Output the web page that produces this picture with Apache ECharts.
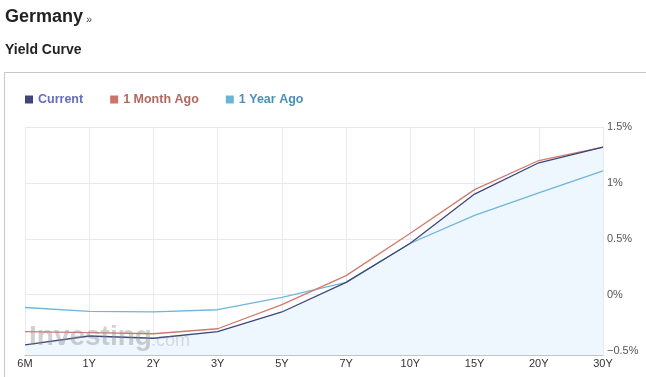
<!DOCTYPE html>
<html>
<head>
<meta charset="utf-8">
<script src="https://cdn.jsdelivr.net/npm/echarts@6/dist/echarts.min.js"></script>
<style>
  html, body { margin: 0; padding: 0; background: #fff; }
  #chart { width: 646px; height: 377px; }
</style>
</head>
<body>
<div id="chart"></div>
<script>
// maturities on the x axis
const maturities = ['6M', '1Y', '2Y', '3Y', '5Y', '7Y', '10Y', '15Y', '20Y', '30Y'];
// yields in %
const current = [-0.45, -0.37, -0.39, -0.33, -0.155, 0.11, 0.46, 0.90, 1.18, 1.32];
const monthAgo = [-0.33, -0.34, -0.35, -0.305, -0.09, 0.17, 0.55, 0.94, 1.20, 1.32];
const yearAgo = [-0.115, -0.15, -0.155, -0.135, -0.025, 0.11, 0.46, 0.71, 0.91, 1.107];
const yTicks = [-0.5, 0, 0.5, 1, 1.5];

const chart = echarts.init(document.getElementById('chart'));

chart.setOption({
  animation: false,
  textStyle: { fontFamily: 'Liberation Sans, Arial, sans-serif' },
  graphic: [
    { type: 'text', left: 5, top: 8, style: { text: 'Germany', font: 'bold 18px Liberation Sans', fill: '#222' } },
    { type: 'text', left: 86, top: 14, style: { text: '»', font: '11px Liberation Sans', fill: '#444' } },
    { type: 'text', left: 5, top: 43, style: { text: 'Yield Curve', font: 'bold 14px Liberation Sans', fill: '#222' } },
    { type: 'line', shape: { x1: 4.5, y1: 72, x2: 4.5, y2: 377 }, style: { stroke: '#c8c8c8', lineWidth: 1 } },
    { type: 'line', shape: { x1: 4, y1: 72.5, x2: 646, y2: 72.5 }, style: { stroke: '#c8c8c8', lineWidth: 1 } },
    { type: 'text', left: 29, top: 323, z: 10, style: { text: 'Investing', font: 'bold 28px Liberation Sans', fill: 'rgba(140,140,140,0.4)' } },
    { type: 'text', left: 151, top: 332, z: 10, style: { text: '.com', font: '18px Liberation Sans', fill: 'rgba(140,140,140,0.28)' } }
  ],
  legend: {
    left: 20,
    top: 88,
    itemWidth: 8,
    itemHeight: 8,
    itemGap: 27,
    icon: 'rect',
    textStyle: { fontSize: 12.5, fontWeight: 'bold' },
    data: [
      { name: 'Current', textStyle: { color: '#666cc0' } },
      { name: '1 Month Ago', textStyle: { color: '#b3685e' } },
      { name: '1 Year Ago', textStyle: { color: '#4c90b3' } }
    ]
  },
  grid: { left: 25, right: 43, top: 127, bottom: 22 },
  xAxis: {
    type: 'category',
    boundaryGap: false,
    data: maturities,
    axisLine: { onZero: false, lineStyle: { color: '#c0c4cc' } },
    axisTick: { show: false },
    axisLabel: { color: '#333', fontSize: 11, margin: 3 },
    splitLine: { show: true, lineStyle: { color: '#e6e9f5' } }
  },
  yAxis: {
    type: 'value',
    position: 'right',
    min: -0.54,
    max: 1.5,
    axisLine: { show: false },
    axisTick: { show: false, customValues: yTicks },
    axisLabel: {
      customValues: yTicks,
      color: '#555',
      fontSize: 11,
      margin: 4,
      formatter: v => (v < 0 ? '\u2212' + (-v) : v) + '%'
    },
    splitLine: { show: true, lineStyle: { color: '#e6e9f5' } }
  },
  series: [
    {
      // fill under the current curve, kept behind every line
      name: 'currentArea', type: 'line', data: current, symbol: 'none', z: 1,
      lineStyle: { width: 0 }, silent: true,
      areaStyle: { color: '#eef6fe', opacity: 1, origin: 'start' }
    },
    {
      name: 'Current', type: 'line', data: current, symbol: 'none', z: 4,
      lineStyle: { color: '#3f477a', width: 1.3 }, itemStyle: { color: '#3f477a' }
    },
    {
      name: '1 Month Ago', type: 'line', data: monthAgo, symbol: 'none', z: 3,
      lineStyle: { color: '#d07a6e', width: 1.3 }, itemStyle: { color: '#c9756b' }
    },
    {
      name: '1 Year Ago', type: 'line', data: yearAgo, symbol: 'none', z: 2,
      lineStyle: { color: '#6fb6da', width: 1.3 }, itemStyle: { color: '#6ab4d6' }
    }
  ]
});
</script>
</body>
</html>
